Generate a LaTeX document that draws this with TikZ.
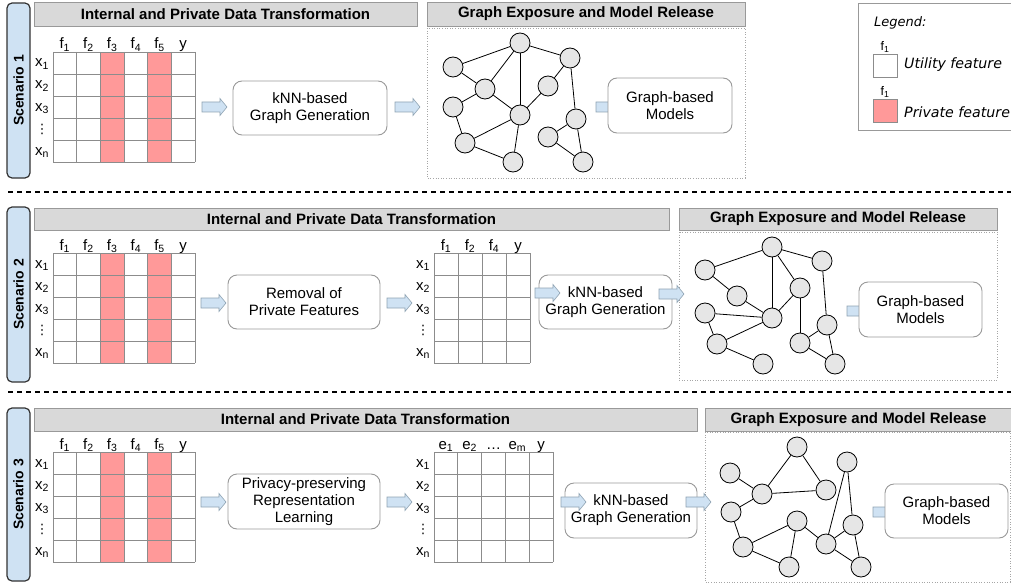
\documentclass[tikz,border=0pt]{standalone}
\usepackage{fontspec}
\setmainfont{Liberation Sans}
\newfontfamily\legfont{DejaVu Sans}
\newfontfamily\symfont{DejaVu Sans}
\definecolor{sidefill}{HTML}{CFE2F3}
\definecolor{bandfill}{HTML}{D9D9D9}
\definecolor{bandline}{HTML}{999999}
\definecolor{boxline}{HTML}{999999}
\definecolor{gridline}{HTML}{8C8C8C}
\definecolor{pinkc}{HTML}{FF9999}
\definecolor{nodefill}{HTML}{E6E6E6}
\definecolor{arrfill}{HTML}{CFE2F3}
\definecolor{arrline}{HTML}{8FA3B3}
\newcommand\datamat[6]{% #1 name, #2 x0, #3 y0, #4 colw, #5 ncols, #6 column labels
  \foreach \i in {0,...,#5} \draw[gridc] ({#2+\i*#4},#3) -- ++(0,110);
  \foreach \j in {0,...,5} \draw[gridc] (#2,{#3+\j*22}) -- ++({#5*#4},0);
  \foreach \t [count=\i from 0] in {#6} \node[lab] (#1c\i) at ({#2+(\i+0.5)*#4},{#3-3}) {\t};
  \foreach \t/\j in {x\textsubscript{1}/0,x\textsubscript{2}/1,x\textsubscript{3}/2,x\textsubscript{n}/4}
    \node[lab] (#1r\j) at ({#2-11},{#3+15+\j*22}) {\t};
  \node[font=\symfont\fontsize{13}{14}\selectfont, inner sep=0] (#1r3) at ({#2-11},{#3+77}) {⋮};
}
\begin{document}
\begin{tikzpicture}[x=1pt,y=-1pt,
  sidebox/.style={draw=black!80, line width=1.2pt, fill=sidefill, rounded corners=5pt, rotate=90,
    font=\fontsize{14}{16}\selectfont\bfseries, inner sep=0},
  band/.style={draw=bandline, fill=bandfill, line width=0.8pt, font=\fontsize{15}{18}\selectfont\bfseries, inner sep=0},
  zone/.style={draw=gray!70, dotted, line width=0.6pt},
  proc/.style={draw=boxline, rounded corners=9pt, line width=0.9pt, fill=white, align=center,
    font=\fontsize{15}{17}\selectfont, inner sep=0},
  gnode/.style={circle, draw=black, fill=nodefill, line width=0.8pt, minimum size=20pt, inner sep=0},
  gedge/.style={line width=0.8pt},
  lab/.style={font=\fontsize{15}{17}\selectfont, inner sep=0, anchor=base},
  gridc/.style={draw=gridline, line width=0.8pt},
  sep/.style={line width=2.4pt, dash pattern=on 5pt off 4pt},
  legtext/.style={anchor=west, inner sep=0, font=\legfont\itshape\fontsize{14.2}{16}\selectfont},
  barrow/.pic={\draw[draw=arrline, fill=arrfill, line width=0.6pt] (0,-5) -- (18,-5) -- (18,-8.5) -- (25,0) -- (18,8.5) -- (18,5) -- (0,5) -- cycle;}
]
\useasboundingbox (0,0) rectangle (1011,583);

% ---------------- Scenario 1 ----------------
\node[sidebox, minimum width=175pt, minimum height=23pt] (s1) at (18.5,90.5) {Scenario 1};
\node[band, minimum width=383pt, minimum height=24pt] (b1a) at (225.5,14) {Internal and Private Data Transformation};
\node[band, minimum width=318pt, minimum height=24pt] (b1b) at (586,14) {Graph Exposure and Model Release};
\draw[zone] (427,28) rectangle (745,178);
\fill[pinkc] ({53+2*23.667},52) rectangle ++(23.667,110);
\fill[pinkc] ({53+4*23.667},52) rectangle ++(23.667,110);
\datamat{m1}{53}{52}{23.667}{6}{f\textsubscript{1},f\textsubscript{2},f\textsubscript{3},f\textsubscript{4},f\textsubscript{5},y}
\pic at (202,107) {barrow};
\node[proc, minimum width=154pt, minimum height=54pt] (knn1) at (310,108) {kNN-based\\Graph Generation};
\pic at (395,107) {barrow};
\foreach \n/\x/\y in {n1/520/43, n2/570/58, n3/453/67, n4/485/89, n5/548/86, n6/453/107,
  n7/520/115, n8/576/119, n9/465/143, n10/548/137, n11/513/162, n12/583/162}
  \node[gnode] (\n) at (\x,\y) {};
\foreach \a/\b in {n3/n1, n3/n4, n4/n1, n1/n7, n1/n2, n4/n7, n6/n4, n6/n9, n9/n7, n7/n11,
  n9/n11, n5/n7, n2/n5, n2/n8, n8/n10, n8/n12, n10/n12}
  \draw[gedge] (\a) -- (\b);
\pic at (596,107) {barrow};
\node[proc, minimum width=124pt, minimum height=55pt] (gbm1) at (670,105.5) {Graph-based\\Models};

% legend
\draw[draw=boxline, line width=0.8pt] (858,3) rectangle (1014,130);
\node[legtext, font=\legfont\itshape\fontsize{13}{15}\selectfont] (legt) at (874,23) {Legend:};
\node[anchor=base, inner sep=0, font=\fontsize{12.5}{14}\selectfont] (lf1) at (885,51) {f\textsubscript{1}};
\draw[draw=gridline, line width=0.8pt, fill=white] (873,54) rectangle (897,77);
\node[legtext] (legu) at (904,65) {Utility feature};
\node[anchor=base, inner sep=0, font=\fontsize{12.5}{14}\selectfont] (lf2) at (885,96) {f\textsubscript{1}};
\draw[draw=gridline, line width=0.8pt, fill=pinkc] (873,99) rectangle (897,122);
\node[legtext] (legp) at (904,112) {Private feature};

\draw[sep] (8,192) -- (1011,192);

% ---------------- Scenario 2 ----------------
\node[sidebox, minimum width=175pt, minimum height=23pt] (s2) at (18.5,294.5) {Scenario 2};
\node[band, minimum width=635pt, minimum height=22pt] (b2a) at (351.5,219) {Internal and Private Data Transformation};
\node[band, minimum width=318pt, minimum height=22pt] (b2b) at (838,219) {Graph Exposure and Model Release};
\draw[zone] (679,232) rectangle (997,380);
\fill[pinkc] ({53+2*23.667},253) rectangle ++(23.667,110);
\fill[pinkc] ({53+4*23.667},253) rectangle ++(23.667,110);
\datamat{m2}{53}{253}{23.667}{6}{f\textsubscript{1},f\textsubscript{2},f\textsubscript{3},f\textsubscript{4},f\textsubscript{5},y}
\pic at (201,303) {barrow};
\node[proc, minimum width=152pt, minimum height=54pt] (rem2) at (304,302) {Removal of\\Private Features};
\pic at (387,303) {barrow};
\datamat{m2b}{434}{253}{24}{4}{f\textsubscript{1},f\textsubscript{2},f\textsubscript{4},y}
\node[proc, minimum width=133pt, minimum height=54pt] (knn2) at (605.5,302) {kNN-based\\Graph Generation};
\pic at (535,293) {barrow};
\pic at (659,294) {barrow};
\foreach \n/\x/\y in {a1/772/247, a2/822/261, a3/705/270, a4/737/296, a5/800/288, a6/705/313,
  a7/772/318, a8/827/325, a9/717/344, a10/800/343, a11/763/364, a12/835/364}
  \node[gnode] (\n) at (\x,\y) {};
\foreach \a/\b in {a3/a1, a3/a4, a1/a7, a1/a5, a1/a2, a4/a7, a6/a7, a6/a9, a9/a7, a5/a7,
  a9/a11, a5/a10, a2/a8, a8/a10, a8/a12, a10/a12}
  \draw[gedge] (\a) -- (\b);
\pic at (847,311) {barrow};
\node[proc, minimum width=123pt, minimum height=55pt] (gbm2) at (920.5,309.5) {Graph-based\\Models};

\draw[sep] (8,392) -- (1011,392);

% ---------------- Scenario 3 ----------------
\node[sidebox, minimum width=173pt, minimum height=23pt] (s3) at (18.5,494.5) {Scenario 3};
\node[band, minimum width=663pt, minimum height=23pt] (b3a) at (365.5,419.5) {Internal and Private Data Transformation};
\node[band, minimum width=307pt, minimum height=23pt] (b3b) at (858.5,419.5) {Graph Exposure and Model Release};
\draw[zone] (705,432) rectangle (1010,582);
\fill[pinkc] ({53+2*23.667},452) rectangle ++(23.667,110);
\fill[pinkc] ({53+4*23.667},452) rectangle ++(23.667,110);
\datamat{m3}{53}{452}{23.667}{6}{f\textsubscript{1},f\textsubscript{2},f\textsubscript{3},f\textsubscript{4},f\textsubscript{5},y}
\pic at (201,502) {barrow};
\node[proc, minimum width=152pt, minimum height=55pt] (priv3) at (304,501.5) {Privacy-preserving\\Representation\\Learning};
\pic at (387,502) {barrow};
\datamat{m3b}{434}{452}{23.8}{5}{e\textsubscript{1},e\textsubscript{2},\dots,e\textsubscript{m},y}
\node[proc, minimum width=132pt, minimum height=55pt] (knn3) at (631,510.5) {kNN-based\\Graph Generation};
\pic at (561,502) {barrow};
\pic at (686,502) {barrow};
\foreach \n/\x/\y in {c1/797/447, c2/847/462, c3/730/473, c4/762/494, c5/826/490, c6/731/512,
  c7/797/521, c8/853/525, c9/743/547, c10/826/544, c11/789/567, c12/861/567}
  \node[gnode] (\n) at (\x,\y) {};
\foreach \a/\b in {c3/c4, c4/c1, c1/c5, c4/c5, c6/c4, c6/c9, c9/c7, c7/c11, c9/c11, c7/c10,
  c10/c2, c2/c8, c8/c10, c10/c12, c8/c12}
  \draw[gedge] (\a) -- (\b);
\pic at (873,512) {barrow};
\node[proc, minimum width=123pt, minimum height=54pt] (gbm3) at (946.5,511) {Graph-based\\Models};
\end{tikzpicture}
\end{document}
